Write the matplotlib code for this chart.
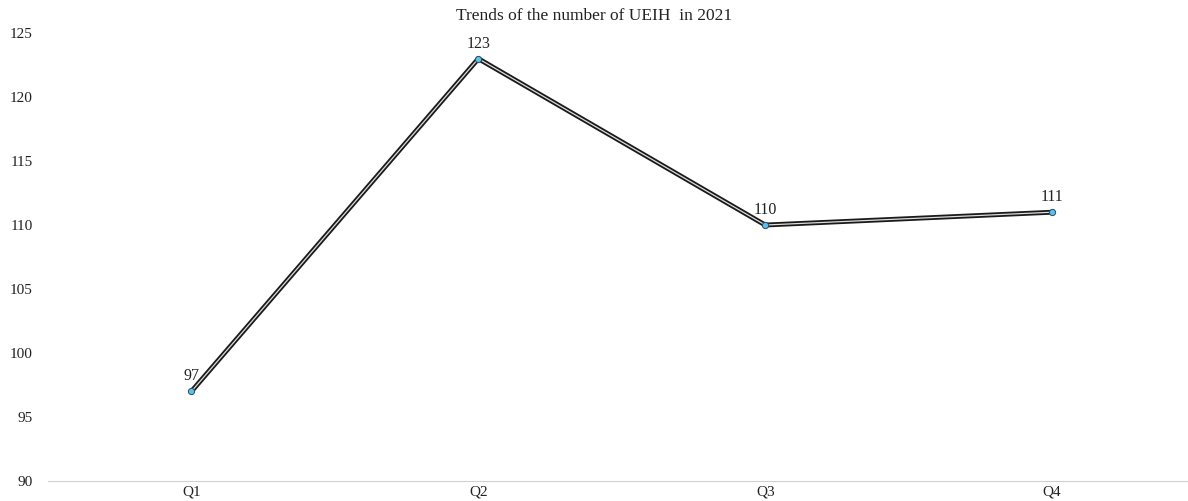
import matplotlib.pyplot as plt
import matplotlib.patheffects as pe

quarters = ["Q1", "Q2", "Q3", "Q4"]
counts = [97, 123, 110, 111]
y_ticks = [90, 95, 100, 105, 110, 115, 120, 125]

plt.rcParams['font.family'] = ['Liberation Serif', 'DejaVu Serif']

fig = plt.figure(figsize=(11.88, 5.01), dpi=100)
ax = fig.add_axes([0.0404, 0.04, 0.966, 0.894])

x = range(len(quarters))
# black outline with a pale core gives the double-line look
ax.plot(x, counts, color="#dcdcdc", linewidth=0.9, zorder=3,
        path_effects=[pe.Stroke(linewidth=3.5, foreground="#1a1a1a"), pe.Normal()])
ax.plot(x, counts, linestyle="none", marker="o", markersize=4.5,
        markerfacecolor="#5bc0eb", markeredgecolor="#2a4d66", markeredgewidth=0.7, zorder=4)

for i, v in zip(x, counts):
    ax.annotate(str(v), (i, v), xytext=(0, 5), textcoords="offset points",
                ha="center", va="bottom", fontsize=11.5, color="#222222")

ax.set_xlim(-0.5, 3.5)
ax.set_ylim(90, 125)
ax.set_xticks(list(x))
ax.set_xticklabels(quarters)
ax.set_yticks(y_ticks)
ax.tick_params(axis="both", length=0, labelsize=11, colors="#222222")
ax.tick_params(axis="y", pad=11)
ax.tick_params(axis="x", pad=3)

for side in ["top", "right", "left"]:
    ax.spines[side].set_visible(False)
ax.spines["bottom"].set_color("#d0d0d0")
ax.spines["bottom"].set_linewidth(0.8)

fig.text(0.5, 0.968, "Trends of the number of UEIH  in 2021", ha="center",
         va="center", fontsize=12.5, color="#222222")

plt.savefig("out.png")
